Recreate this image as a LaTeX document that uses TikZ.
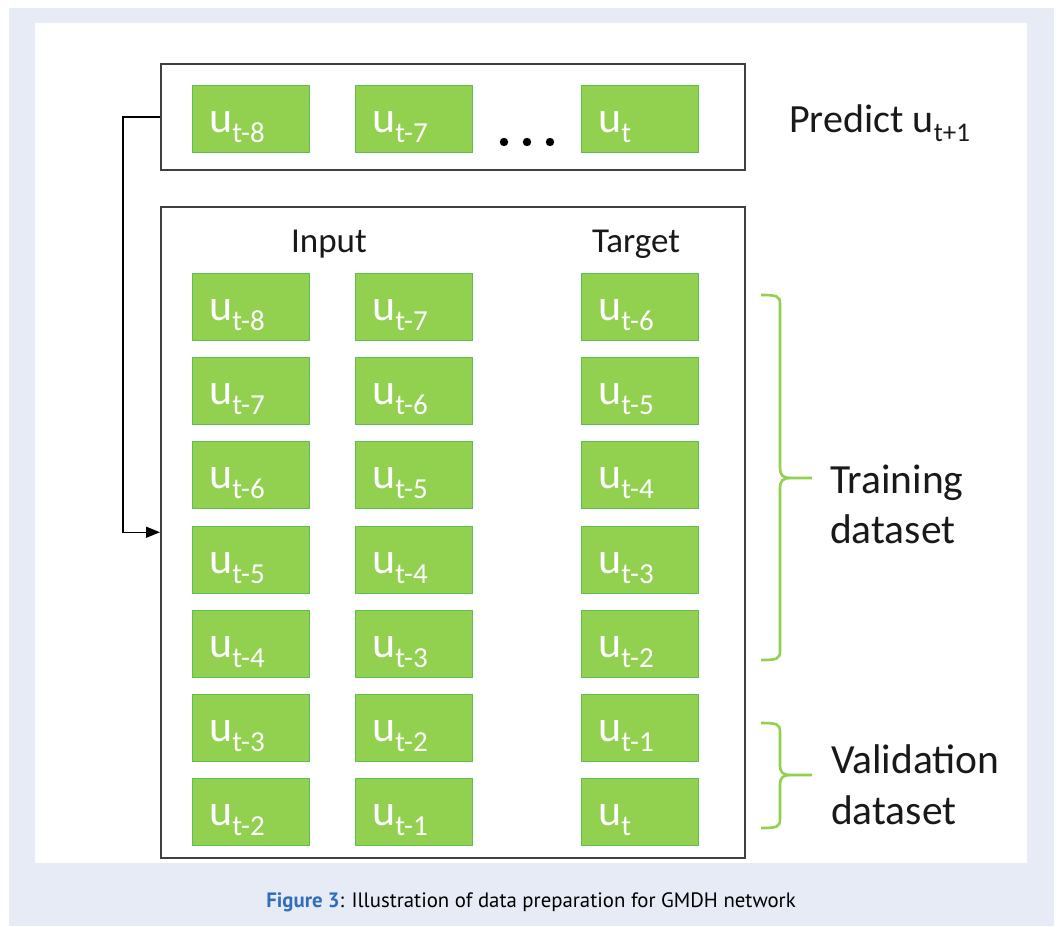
\documentclass[tikz,border=0pt]{standalone}
\usepackage{fontspec}
\setmainfont{Carlito}
\newfontfamily\capfont{PT Sans}
\usetikzlibrary{calc,arrows.meta}
\definecolor{lav}{HTML}{E7EBF6}
\definecolor{gfill}{HTML}{92D050}
\definecolor{gedge}{HTML}{5CBF52}
\definecolor{frame}{HTML}{404040}
\definecolor{capblue}{HTML}{2F6EBA}
\newcommand{\ulab}[1]{{\fontsize{44}{44}\selectfont u}\raisebox{-10pt}{\fontsize{29}{29}\selectfont #1}}
\tikzset{
  gbox/.style={draw=gedge, fill=gfill, line width=1.2pt, minimum width=117pt, minimum height=67pt, inner sep=0pt, anchor=north west},
  glab/.style={anchor=base west, inner sep=0pt, text=white},
  framebox/.style={draw=frame, line width=1.5pt},
  brace/.style={draw=gfill, line width=2.6pt},
  side/.style={anchor=base west, inner sep=0pt, font=\fontsize{41.5}{41.5}\selectfont, text=black!90},
  head/.style={anchor=base, inner sep=0pt, font=\fontsize{35}{35}\selectfont, text=black!90}
}
\begin{document}
\begin{tikzpicture}[x=1pt,y=-1pt]
\useasboundingbox (0,0) rectangle (1057,926);
\fill[white] (0,0) rectangle (1057,926);
\fill[lav] (9,8) rectangle (1054,926);
\fill[white] (35,23) rectangle (1027,863);
% frames
\node[framebox, minimum width=584pt, minimum height=106pt, anchor=north west, inner sep=0pt] (top) at (160,63) {};
\node[framebox, minimum width=584pt, minimum height=651pt, anchor=north west, inner sep=0pt] (big) at (160,206) {};
% top row
\node[gbox] (p1) at (192,85) {};
\node[gbox] (p2) at (355,85) {};
\node[gbox] (p3) at (581,85) {};
\node[glab] (lp1) at ($(p1.north west)+(17,47)$) {\ulab{t-8}};
\node[glab] (lp2) at ($(p2.north west)+(17,47)$) {\ulab{t-7}};
\node[glab] (lp3) at ($(p3.north west)+(17,47)$) {\ulab{t}};
\fill (504,142) circle (4.2pt) (527,142) circle (4.2pt) (550,142) circle (4.2pt);
\node[side, font=\fontsize{40}{40}\selectfont] (pred) at (789,132) {Predict u\raisebox{-9pt}{\fontsize{27}{27}\selectfont t+1}};
% headers
\node[head] (hin) at (329,252) {Input};
\node[head] (htg) at (636,252) {Target};
% grid
\foreach \r/\y/\a/\b/\c in {1/273/t-8/t-7/t-6, 2/357/t-7/t-6/t-5, 3/441/t-6/t-5/t-4, 4/526/t-5/t-4/t-3, 5/610/t-4/t-3/t-2, 6/694/t-3/t-2/t-1, 7/778/t-2/t-1/t}{
  \node[gbox] (a\r) at (192,\y) {};
  \node[gbox] (b\r) at (355,\y) {};
  \node[gbox] (c\r) at (581,\y) {};
  \node[glab] (la\r) at ($(a\r.north west)+(17,47)$) {\ulab{\a}};
  \node[glab] (lb\r) at ($(b\r.north west)+(17,47)$) {\ulab{\b}};
  \node[glab] (lc\r) at ($(c\r.north west)+(17,47)$) {\ulab{\c}};
}
% feedback arrow
\draw[black, line width=1.5pt, -{Triangle[length=14pt,width=11pt]}] (top.west) -- ++(-37,0) |- (big.west);
% braces
\draw[brace] (761,295) .. controls (777,295) and (780,296) .. (780,304) -- (780,468) .. controls (780,475) and (783,478) .. (790,478) -- (812,478);
\draw[brace] (790,478) .. controls (783,478) and (780,481) .. (780,488) -- (780,651) .. controls (780,659) and (777,660) .. (761,660);
\draw[brace] (761,723) .. controls (777,723) and (780,724) .. (780,732) -- (780,766) .. controls (780,772) and (783,775) .. (790,775) -- (812,775);
\draw[brace] (790,775) .. controls (783,775) and (780,778) .. (780,784) -- (780,819) .. controls (780,827) and (777,828) .. (761,828);
\node[side] (tr1) at (830,493) {Training};
\node[side] (tr2) at (830,543) {dataset};
\node[side] (va1) at (831,773) {Validation};
\node[side] (va2) at (831,824) {dataset};
% caption
\node[anchor=base, inner sep=0pt, font=\capfont\fontsize{20.8}{20.8}\selectfont] (cap) at (531,907) {\textcolor{capblue}{\bfseries Figure 3}: Illustration of data preparation for GMDH network};
\end{tikzpicture}
\end{document}
